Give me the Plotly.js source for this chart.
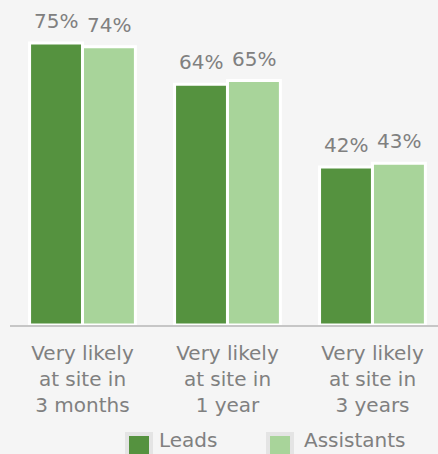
<!DOCTYPE html>
<html>
<head>
<meta charset="utf-8">
<script src="https://cdn.plot.ly/plotly-3.0.1.min.js"></script>
<style>html,body{margin:0;padding:0;background:#f5f5f5;}#chart{width:438px;height:454px;}</style>
</head>
<body>
<div id="chart"></div>
<script>
const categories = ["Very likely<br>at site in<br>3 months", "Very likely<br>at site in<br>1 year", "Very likely<br>at site in<br>3 years"];
const seriesNames = ["Leads", "Assistants"];
const leads = [75, 64, 42];
const assistants = [74, 65, 43];
const colors = ["#55923f", "#a8d49a"];
const textColor = "#808080";
const FONT = "DejaVu Sans";

const W = 438, H = 454;
const M = {l: 10, r: 0, t: 20, b: 129};
const PW = W - M.l - M.r, PH = H - M.t - M.b;
const px = x => (x - M.l) / PW;
const py = y => (H - M.b - y) / PH;

const traces = [leads, assistants].map((vals, i) => ({
  type: 'bar',
  name: seriesNames[i],
  x: categories,
  y: vals,
  marker: {color: colors[i], line: {color: '#ffffff', width: 3}},
  hoverinfo: 'none'
}));

const annotations = [];
const off = [-0.183, 0.183];
[leads, assistants].forEach((vals, i) => {
  vals.forEach((v, j) => {
    annotations.push({
      x: j + off[i], y: v, xref: 'x', yref: 'y',
      text: v + '%', showarrow: false, yanchor: 'bottom', yshift: 8,
      font: {family: FONT, size: 20, color: textColor}
    });
  });
});

// manual legend
const shapes = [];
const legendItems = [{sx: 125, tx: 157}, {sx: 266, tx: 302}];
legendItems.forEach((it, i) => {
  shapes.push({type: 'rect', xref: 'paper', yref: 'paper',
    x0: px(it.sx), x1: px(it.sx + 28), y0: py(432), y1: py(462),
    fillcolor: '#e4e4e4', line: {width: 0}, layer: 'above'});
  shapes.push({type: 'rect', xref: 'paper', yref: 'paper',
    x0: px(it.sx + 4), x1: px(it.sx + 24), y0: py(436), y1: py(458),
    fillcolor: colors[i], line: {width: 0}, layer: 'above'});
  annotations.push({xref: 'paper', yref: 'paper', x: px(it.tx), y: py(454),
    xanchor: 'left', yanchor: 'bottom', showarrow: false, text: seriesNames[i],
    font: {family: FONT, size: 20, color: textColor}});
});

const layout = {
  width: W, height: H,
  margin: M,
  paper_bgcolor: '#f5f5f5', plot_bgcolor: '#f5f5f5',
  barmode: 'group', bargap: 0.27, bargroupgap: 0,
  showlegend: false,
  font: {family: FONT, size: 20, color: textColor},
  xaxis: {type: 'category', range: [-0.5, 2.452], showline: true, linecolor: '#c6c6c6', linewidth: 1.5,
    ticks: '', showgrid: false, zeroline: false, fixedrange: true, ticklabelstandoff: 9,
    tickfont: {family: FONT, size: 20, color: textColor}},
  yaxis: {visible: false, range: [0, 81.1], showgrid: false, zeroline: false, fixedrange: true},
  annotations: annotations,
  shapes: shapes
};

Plotly.newPlot('chart', traces, layout, {displayModeBar: false, staticPlot: true});
</script>
</body>
</html>
